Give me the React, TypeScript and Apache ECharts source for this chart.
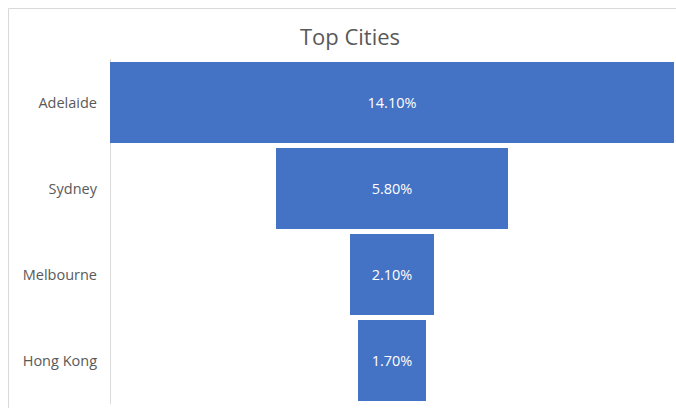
import React, { useEffect, useRef } from "react";
import * as echarts from "echarts";

const categories = ["Adelaide", "Sydney", "Melbourne", "Hong Kong"];
const values = [14.1, 5.8, 2.1, 1.7];
const maxValue = 14.1;

export default function App() {
  const ref = useRef<HTMLDivElement>(null);
  useEffect(() => {
    const chart = echarts.init(ref.current!, null, { renderer: "svg" });
    const offsets = values.map((v) => (maxValue - v) / 2);
    const font = "'Open Sans', 'Liberation Sans', sans-serif";
    chart.setOption({
      animation: false,
      title: {
        text: "Top Cities",
        left: 345,
        textAlign: "center",
        top: 20,
        textStyle: { fontFamily: font, fontSize: 22, fontWeight: "normal", color: "#595959" },
      },
      graphic: [
        {
          type: "rect",
          shape: { x: 8.5, y: 8.5, width: 720, height: 480 },
          style: { fill: "none", stroke: "#d9d9d9", lineWidth: 1 },
          silent: true,
        },
      ],
      grid: { left: 110, right: 2, top: 59.5, bottom: 4.5, containLabel: false },
      xAxis: { type: "value", min: 0, max: maxValue, show: false },
      yAxis: {
        type: "category",
        data: categories,
        inverse: true,
        axisLine: { show: true, lineStyle: { color: "#d9d9d9" } },
        axisTick: { show: false },
        axisLabel: { color: "#595959", fontSize: 14.5, fontFamily: font, margin: 13 },
      },
      series: [
        {
          type: "bar",
          stack: "f",
          data: offsets,
          itemStyle: { color: "transparent" },
          silent: true,
          barCategoryGap: "6%",
        },
        {
          type: "bar",
          stack: "f",
          data: values,
          barCategoryGap: "6%",
          itemStyle: { color: "#4472c4" },
          label: {
            show: true,
            position: "inside",
            color: "#ffffff",
            fontSize: 14.5,
            fontFamily: font,
            formatter: (p: any) => p.value.toFixed(2) + "%",
          },
        },
      ],
    });
    return () => chart.dispose();
  }, []);
  return <div ref={ref} style={{ width: 676, height: 408, position: "absolute", left: 0, top: 0 }} />;
}
